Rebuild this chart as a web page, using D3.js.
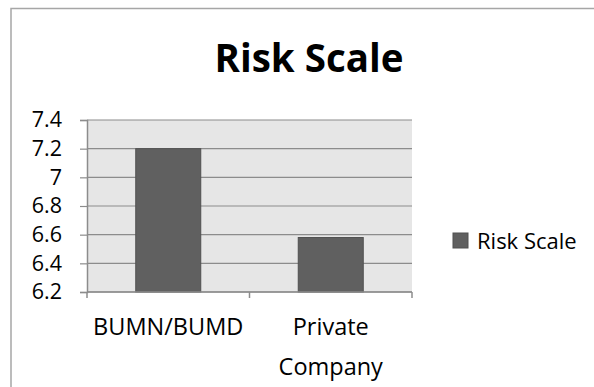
<!DOCTYPE html>
<html>
<head>
<meta charset="utf-8">
<script src="https://d3js.org/d3.v7.min.js"></script>
<style>
  html, body { margin: 0; padding: 0; background: #fff; }
  svg { display: block; font-family: "Open Sans", sans-serif; }
</style>
</head>
<body>
<svg id="chart" width="594" height="387"></svg>
<script>
// ── 数据 ─────────────────────────────────────────
const categories = [["BUMN/BUMD"], ["Private", "Company"]];
const riskScale = [7.2, 6.58];
const yTicks = [6.2, 6.4, 6.6, 6.8, 7, 7.2, 7.4];
const chartTitle = "Risk Scale";
const seriesName = "Risk Scale";

const svg = d3.select("#chart");
const W = 594, H = 387;

// 外框
svg.append("path")
    .attr("d", `M11,${H} V8.5 H${W}`)
    .attr("fill", "none")
    .attr("stroke", "#a6a6a6")
    .attr("stroke-width", 1.5);

// 绘图区
const plot = { left: 87, right: 412, top: 120, bottom: 292 };

const x = d3.scaleBand()
    .domain(categories.map(c => c.join(" ")))
    .range([plot.left, plot.right])
    .paddingInner(0.6)
    .paddingOuter(0.3);

const y = d3.scaleLinear()
    .domain([6.2, 7.4])
    .range([plot.bottom, plot.top]);

// 背景
svg.append("rect")
    .attr("x", plot.left)
    .attr("y", plot.top)
    .attr("width", plot.right - plot.left)
    .attr("height", plot.bottom - plot.top)
    .attr("fill", "#e6e6e6");

// 网格线
svg.append("g")
    .selectAll("line")
    .data(yTicks)
    .join("line")
    .attr("x1", plot.left)
    .attr("x2", plot.right)
    .attr("y1", d => y(d))
    .attr("y2", d => y(d))
    .attr("stroke", "#8c8c8c")
    .attr("stroke-width", 1.2);

// 柱子
svg.append("g")
    .selectAll("rect")
    .data(riskScale)
    .join("rect")
    .attr("x", (d, i) => x(categories[i].join(" ")))
    .attr("y", d => y(d))
    .attr("width", x.bandwidth())
    .attr("height", d => plot.bottom - y(d))
    .attr("fill", "#606060")
    .attr("stroke", "#505050")
    .attr("stroke-width", 1);

// Y 轴
const yAxis = svg.append("g")
    .attr("transform", `translate(${plot.left},0)`)
    .call(d3.axisLeft(y).tickValues(yTicks).tickSize(7).tickPadding(18)
        .tickFormat(d => d3.format("")(d)));
yAxis.select(".domain").attr("stroke", "#8c8c8c").attr("stroke-width", 1.5);
yAxis.selectAll(".tick line").attr("stroke", "#8c8c8c").attr("stroke-width", 1.2);
yAxis.selectAll(".tick text")
    .attr("font-size", 21.5)
    .attr("font-family", "Open Sans, sans-serif")
    .attr("fill", "#000");

// X 轴
const xAxisLine = d3.scalePoint()
    .domain([0, 1, 2])
    .range([plot.left, plot.right]);
const xg = svg.append("g");
xg.append("line")
    .attr("x1", plot.left).attr("x2", plot.right)
    .attr("y1", plot.bottom).attr("y2", plot.bottom)
    .attr("stroke", "#8c8c8c").attr("stroke-width", 1.5);
xg.selectAll(".xt")
    .data(xAxisLine.domain())
    .join("line")
    .attr("class", "xt")
    .attr("x1", d => xAxisLine(d)).attr("x2", d => xAxisLine(d))
    .attr("y1", plot.bottom).attr("y2", plot.bottom + 6)
    .attr("stroke", "#8c8c8c").attr("stroke-width", 1.5);

// 分类标签
const labels = svg.append("g")
    .selectAll("text")
    .data(categories)
    .join("text")
    .attr("text-anchor", "middle")
    .attr("font-size", 23.5)
    .attr("fill", "#000");
labels.each(function(lines, i) {
    const cx = x(lines.join(" ")) + x.bandwidth() / 2;
    d3.select(this).selectAll("tspan")
        .data(lines)
        .join("tspan")
        .attr("x", cx)
        .attr("y", (d, j) => 335 + j * 40)
        .text(d => d);
});

// 标题
svg.append("text")
    .attr("x", 309)
    .attr("y", 72)
    .attr("text-anchor", "middle")
    .attr("font-size", 38.5)
    .attr("font-weight", "bold")
    .attr("fill", "#000")
    .text(chartTitle);

// 图例
const legend = svg.append("g").attr("transform", "translate(453,233)");
legend.append("rect")
    .attr("width", 15).attr("height", 15)
    .attr("fill", "#606060").attr("stroke", "#505050");
legend.append("text")
    .attr("x", 24).attr("y", 15.5)
    .attr("font-size", 22)
    .attr("fill", "#000")
    .text(seriesName);
</script>
</body>
</html>
